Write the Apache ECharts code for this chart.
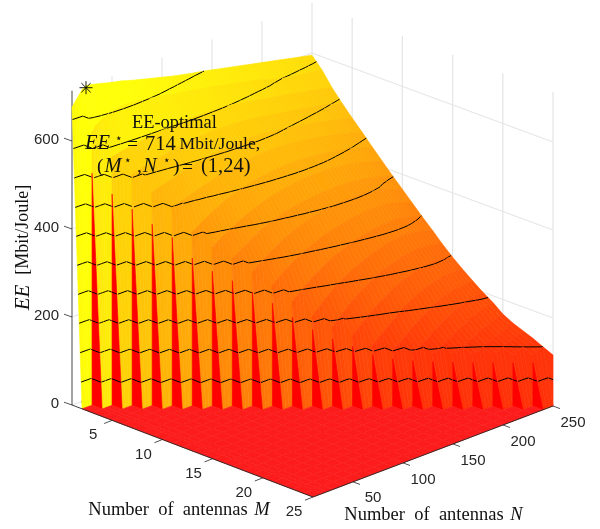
<!DOCTYPE html>
<html><head><meta charset="utf-8">
<style>html,body{margin:0;padding:0;background:#fff}#c{width:600px;height:529px}</style>
<script src="https://cdn.jsdelivr.net/npm/echarts@6/dist/echarts.min.js"></script>
</head><body><div id="c"></div>
<script>
// ---- data ----
const antennasM = [1,2,3,4,5,6,7,8,9,10,11,12,13,14,15,16,17,18,19,20,21,22,23,24,25];
const antennasN = [10,20,24,30,40,50,60,70,80,90,100,110,120,130,140,150,160,170,180,190,200,210,220,230,240,250];
// each row: EE for the feasible tail of antennasN (smaller N give EE = 0)
const row01 = [677,708,714,712,706,700,695,688,682,676,670,664,659,654,650,645,640,635,630,625,620,615,610,605,600,595];
const row02 = [620,632,642,652,656,656,652,648,645,640,636,632,628,624,619,614,609,604,598,590,584,581,577,574,570];
const row03 = [565,570,574,578,581,583,585,587,587,587,586,585,583,579,575,570,566,562,558,553,549,544,538];
const row04 = [525,532,537,542,547,551,554,556,557,557,556,554,552,548,544,540,536,532,528,523,517,511];
const row05 = [485,492,499,506,512,517,521,524,526,527,527,526,524,520,516,512,508,503,498,492,486];
const row06 = [450,458,466,473,480,485,490,494,497,499,500,499,497,494,490,486,481,475,469,462];
const row07 = [395,410,424,436,446,453,459,464,467,469,470,469,467,464,460,456,451,444,437];
const row08 = [360,376,390,402,412,421,428,433,437,440,441,441,440,437,433,428,421,413];
const row09 = [335,350,365,378,388,395,401,405,408,410,411,411,409,406,401,395,389];
const row10 = [305,322,338,352,363,372,379,384,388,390,391,390,387,383,374,366];
const row11 = [275,294,310,323,334,344,351,357,361,364,365,364,361,352,343];
const row12 = [238,258,276,291,304,314,323,329,334,337,338,336,329,320];
const row13 = [205,228,248,264,277,288,297,304,309,311,310,305,298];
const row14 = [180,203,224,241,255,266,274,281,285,286,282,275];
const row15 = [160,182,202,218,232,243,252,258,261,259,254];
const row16 = [138,158,178,197,211,222,230,236,237,235];
const row17 = [127,143,163,180,194,205,212,216,217];
const row18 = [122,135,151,167,180,190,197,200];
const row19 = [120,130,144,158,170,179,185];
const row20 = [118,127,139,151,160,167];
const row21 = [117,125,136,147,155];
const row22 = [117,125,136,146];
const row23 = [116,126,137];
const row24 = [116,126];
const row25 = [116];
const rows = [row01,row02,row03,row04,row05,row06,row07,row08,row09,row10,row11,row12,row13,row14,row15,row16,row17,row18,row19,row20,row21,row22,row23,row24,row25];
const contourLevels = [60,126,192,257,322,387,452,518,584,649];
const ticksM = [5,10,15,20,25];
const ticksN = [50,100,150,200,250];
const ticksZ = [0,200,400,600];
const optimum = {M:1, N:24, EE:714};
const zTop = 714;

// ---- view of the 3-D box ----
const L=[72,405],F=[313,497],R=[553,406],B=[312,317],zs=0.44;
function project(M,N,z){
  const u=(M-1)/24,v=(N-10)/240,w=(1-u)*(1-v),f=u*(1-v),r=u*v,b=(1-u)*v;
  return [L[0]*w+F[0]*f+R[0]*r+B[0]*b, L[1]*w+F[1]*f+R[1]*r+B[1]*b-zs*z];
}
function hot(z){
  if(z===0)return 'rgb(252,28,28)';
  const g=Math.max(0,Math.min(1,z/zTop))*255;
  return 'rgb(255,'+Math.min(255,Math.round(g+7))+',8)';
}
const nN=antennasN.length;
const start=i=>nN-rows[i].length;
const val=(i,j)=>j<start(i)?0:rows[i][j-start(i)];
const pre=(i,j)=>j<=start(i)?0:rows[i][j-start(i)]; // value arriving from smaller N

// ---- faces in back-to-front order ----
const faces=[];
function addFace(pts,color,colorEnd,flat,noLines){faces.push({pts,color,colorEnd,flat,noLines});}
for(let i=0;i<antennasM.length-1;i++){
  const M=antennasM[i],M2=antennasM[i+1];
  for(let j=nN-2;j>=0;j--){
    const N=antennasN[j],N2=antennasN[j+1];
    const a=val(i,j),b=j+1===start(i)?0:val(i,j+1);
    const d=pre(i+1,j+1);
    const cc=(j>=start(i+1))?val(i+1,j):0;
    if(j===nN-2&&j+1===start(i+1)){
      addFace([[M,N2,b],[M2,N2,val(i+1,j+1)],[M2,N2,0]],b,b);
    }
    addFace([[M,N,a],[M,N2,b],[M2,N2,d],[M2,N,cc]],a,b===0?a:b);
    if(j===start(i+1)){
      const H=val(i+1,j);
      addFace([[M,N,a],[M2,N,H],[M2,N,0]],a,a);
    }
    if(j===start(i)&&i>0){
      addFace([[M,N,a],[M2,N,0],[M,N,0]],a,a,null,true);
      addFace([[M,N,a*0.85],[M2,N,0],[M,N,0]],0,0,'rgb(255,0,0)');
    }
  }
}
// contour segments of one face
function contours(pts){
  const segs=[];
  const tris=pts.length===4?[[pts[0],pts[1],pts[2]],[pts[0],pts[2],pts[3]]]:[pts];
  tris.forEach(t=>contourLevels.forEach(l=>{
    const hit=[];
    for(let k=0;k<3;k++){
      const p=t[k],q=t[(k+1)%3];
      if((p[2]<l)!==(q[2]<l)){
        const s=(l-p[2])/(q[2]-p[2]);
        hit.push([p[0]+s*(q[0]-p[0]),p[1]+s*(q[1]-p[1]),l]);
      }
    }
    if(hit.length===2)segs.push(hit);
  }));
  return segs;
}
const dark='#262626',gridC='#e6e6e6';
function renderFace(params,api){
  const f=faces[api.value(0)],kids=[];
  const P=p=>api.coord(project(p[0],p[1],p[2]));
  if(f.pts.length===4){
    const [A,Bb,C,D]=f.pts,n=(f.color===f.colorEnd)?1:3;
    for(let s=0;s<n;s++){
      const t0=s/n,t1=(s+1)/n,mix=(X,Y,t)=>[X[0]+(Y[0]-X[0])*t,X[1]+(Y[1]-X[1])*t,X[2]+(Y[2]-X[2])*t];
      const col=hot(f.color+(f.colorEnd-f.color)*(t0+t1)/2);
      kids.push({type:'polygon',shape:{points:[mix(A,Bb,t0),mix(A,Bb,t1),mix(D,C,t1),mix(D,C,t0)].map(P)},
        style:{fill:col,stroke:col,lineWidth:0.6}});
    }
  }else{
    const col=f.flat||hot(f.color);
    kids.push({type:'polygon',shape:{points:f.pts.map(P)},style:{fill:col,stroke:col,lineWidth:0.6}});
  }
  if(!f.noLines)contours(f.pts).forEach(h=>{
    const p=P(h[0]),q=P(h[1]);
    kids.push({type:'line',shape:{x1:p[0],y1:p[1],x2:q[0],y2:q[1]},style:{stroke:'#000',lineWidth:1}});
  });
  return {type:'group',children:kids};
}
function seg(api,a,b,color,w){
  const p=api.coord(a),q=api.coord(b);
  return {type:'line',shape:{x1:p[0],y1:p[1],x2:q[0],y2:q[1]},style:{stroke:color,lineWidth:w}};
}
function star(api,M,N,z,r,color){
  const c=project(M,N,z),out=[];
  [0,Math.PI/4,Math.PI/2,3*Math.PI/4].forEach(t=>{
    const dx=Math.cos(t)*r,dy=Math.sin(t)*r;
    out.push(seg(api,[c[0]-dx,c[1]-dy+2],[c[0]+dx,c[1]+dy+2],color,0.9));
  });
  return out;
}
function renderBack(params,api){
  const kids=[];
  ticksM.forEach(m=>kids.push(seg(api,project(m,250,0),project(m,250,zTop),gridC,1.3)));
  ticksN.forEach(n=>kids.push(seg(api,project(1,n,0),project(1,n,zTop),gridC,1.3)));
  ticksZ.forEach(z=>{
    kids.push(seg(api,project(1,250,z),project(25,250,z),gridC,1.1));
    kids.push(seg(api,project(1,10,z),project(1,250,z),gridC,1.1));
  });
  kids.push(seg(api,project(1,10,0),project(1,10,zTop),'#8c8c8c',1.6));
  ticksZ.forEach(z=>{const p=project(1,10,z);kids.push(seg(api,p,[p[0]-8,p[1]-2.8],dark,0.8));});
  return {type:'group',children:kids.concat(star(api,optimum.M,optimum.N,0,5,'#666'))};
}
const sans='"Liberation Sans",Arial,sans-serif',serif='"Liberation Serif","Times New Roman",serif';
function txt(api,x,y,o){
  const p=api.coord([x,y]);
  return {type:'text',x:p[0],y:p[1],style:Object.assign({fill:'#262626',align:'center',verticalAlign:'middle'},o)};
}
// annotation pieces: text, left x, y, font
const F1='19.5px '+serif,F1i='italic 20.5px '+serif,Fs='12px "DejaVu Sans"',Fm='17.6px '+serif;
function renderFront(params,api){
  const kids=[];
  kids.push(seg(api,project(1,10,0),project(25,10,0),dark,0.9));
  kids.push(seg(api,project(25,10,0),project(25,250,0),dark,0.9));
  ticksM.forEach(m=>{const p=project(m,10,0);kids.push(seg(api,p,[p[0]-8,p[1]+3.2],dark,0.8));
    kids.push(txt(api,p[0]-19,p[1]+15,{text:String(m),font:'15px '+sans}));});
  ticksN.forEach(n=>{const p=project(25,n,0);kids.push(seg(api,p,[p[0]+7,p[1]+2.6],dark,0.8));
    kids.push(txt(api,p[0]+20,p[1]+16.5,{text:String(n),font:'15px '+sans}));});
  ticksZ.forEach(z=>{const p=project(1,10,z);
    kids.push(txt(api,p[0]-13,p[1]-1,{text:String(z),font:'15px '+sans,align:'right'}));});
  const rich={r:{font:'18.5px '+serif,fill:'#111'},i:{font:'italic 18.5px '+serif,fill:'#111'}};
  kids.push(txt(api,179,510,{text:'{r|Number  of  antennas}  {i|M}',rich,fill:'#111'}));
  kids.push(txt(api,433.5,515,{text:'{r|Number  of  antennas}  {i|N}',rich,fill:'#111'}));
  const rl={r:{font:'18px '+serif,fill:'#111'},i:{font:'italic 21px '+serif,fill:'#111'}};
  const yl=txt(api,23,247.5,{text:'{i|EE}   {r|[Mbit/Joule]}',rich:rl,fill:'#111'});
  yl.rotation=Math.PI/2;kids.push(yl);
  const note=(t,x,y,font)=>kids.push(txt(api,x,y,{text:t,font,fill:'#111',align:'left'}));
  note('EE-optimal',132,123,'18.4px '+serif);
  note('EE',85,144,F1i); note('⋆',115,139,Fs); note('=',127,144.5,F1); note('714',145,144.5,F1i.replace('italic ','')); note('Mbit/Joule,',179.5,144,Fm);
  note('(',97,167,F1); note('M',104.5,167,F1i); note('⋆',124,161,Fs); note(',',137,167,F1); note('N',143,167,F1i);
  note('⋆',163,161,Fs); note(')',173,167,F1); note('=',182,167.5,F1); note('(1,24)',201,167,'20.5px '+serif);
  return {type:'group',children:kids.concat(star(api,optimum.M,optimum.N,optimum.EE,6.5,'#000'))};
}
const chart=echarts.init(document.getElementById('c'),null,{renderer:'canvas'});
chart.setOption({
  animation:false,
  backgroundColor:'#fff',
  grid:{left:0,right:0,top:0,bottom:0},
  xAxis:{type:'value',min:0,max:600,show:false},
  yAxis:{type:'value',min:0,max:529,inverse:true,show:false},
  series:[
    {type:'custom',silent:true,data:[[0]],renderItem:renderBack,z:1,clip:false},
    {type:'custom',silent:true,data:faces.map((f,i)=>[i]),renderItem:renderFace,z:2,clip:false,progressive:0},
    {type:'custom',silent:true,data:[[0]],renderItem:renderFront,z:3,clip:false}
  ]
});
</script></body></html>
